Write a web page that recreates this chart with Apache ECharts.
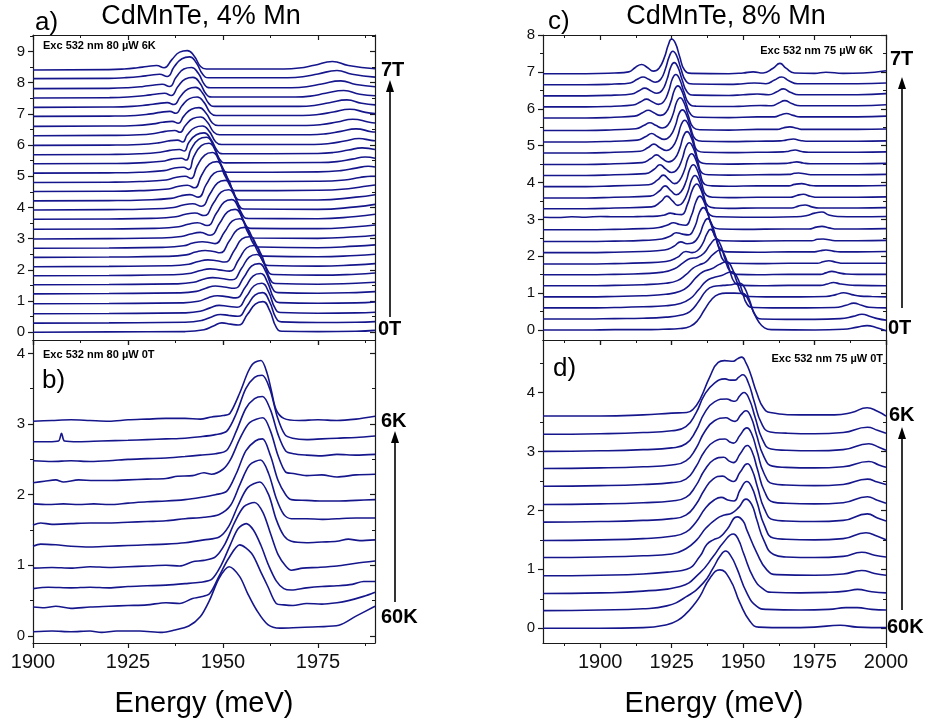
<!DOCTYPE html>
<html><head><meta charset="utf-8">
<script src="https://cdn.jsdelivr.net/npm/echarts@6/dist/echarts.min.js"></script>
<style>html,body{margin:0;padding:0;background:#fff}#c{width:928px;height:724px}</style>
</head><body><div id="c"></div>
<script>
// ---------- Panel a: CdMnTe 4% Mn, 0T..7T (bottom -> top) ----------
const a00=[[1900,0],[1920,0.01],[1940,0.02],[1945,0.08],[1947.5,0.2],[1949.7,0.3],[1952,0.26],[1954,0.23],[1956.5,0.58],[1958.5,0.9],[1960.5,0.98],[1962.3,0.69],[1964,0.16],[1965.5,0.03],[1975,0.02],[1985,0.03],[1990,0.06]];
const a01=[[1900,0.29],[1920,0.3],[1940,0.32],[1944.5,0.38],[1947,0.49],[1949.3,0.57],[1951.5,0.54],[1953.9,0.51],[1956.4,0.86],[1958.4,1.19],[1960.4,1.27],[1962.2,0.99],[1963.9,0.47],[1965.4,0.33],[1975,0.31],[1985,0.32],[1990,0.34]];
const a02=[[1900,0.59],[1920,0.6],[1940,0.62],[1944,0.67],[1946.6,0.78],[1949,0.86],[1951.2,0.83],[1953.7,0.8],[1956.2,1.15],[1958.2,1.49],[1960.2,1.57],[1962,1.29],[1963.7,0.77],[1965.2,0.63],[1975,0.61],[1985,0.62],[1990,0.64]];
const a03=[[1900,0.91],[1920,0.92],[1939,0.94],[1943.5,0.99],[1946,1.1],[1948.5,1.17],[1950.8,1.14],[1953.4,1.1],[1955.9,1.45],[1957.9,1.8],[1959.9,1.88],[1961.7,1.6],[1963.4,1.08],[1964.9,0.95],[1975,0.93],[1985,0.94],[1990,0.97]];
const a04=[[1900,1.23],[1920,1.24],[1938.5,1.26],[1943,1.31],[1945.5,1.41],[1948,1.48],[1950.3,1.45],[1953,1.41],[1955.5,1.76],[1957.5,2.12],[1959.5,2.2],[1961.3,1.93],[1963,1.41],[1964.5,1.27],[1975,1.25],[1985,1.27],[1990,1.3]];
const a05=[[1900,1.52],[1920,1.53],[1937.5,1.55],[1942.3,1.6],[1944.8,1.7],[1947.3,1.75],[1949.6,1.72],[1952.4,1.68],[1954.9,2.05],[1956.9,2.41],[1958.9,2.49],[1960.7,2.22],[1962.4,1.7],[1963.9,1.56],[1975,1.54],[1985,1.57],[1990,1.6]];
const a06=[[1900,1.81],[1920,1.82],[1937,1.84],[1941.6,1.89],[1944.1,1.98],[1946.6,2.03],[1948.9,2.0],[1951.7,1.96],[1954.2,2.34],[1956.2,2.7],[1958.2,2.78],[1960,2.51],[1961.7,1.99],[1963.2,1.85],[1975,1.83],[1985,1.86],[1990,1.9]];
const a07=[[1900,2.1],[1920,2.11],[1936,2.13],[1941,2.18],[1943.5,2.27],[1946,2.32],[1948.3,2.29],[1950.5,2.25],[1953,2.63],[1955,2.99],[1957,3.06],[1958.8,2.79],[1960.5,2.27],[1962,2.14],[1975,2.12],[1985,2.16],[1990,2.2]];
const a08=[[1900,2.4],[1920,2.41],[1935,2.43],[1940.3,2.48],[1942.8,2.57],[1945.3,2.62],[1947.5,2.59],[1949.2,2.55],[1951.7,2.93],[1953.7,3.28],[1955.7,3.36],[1957.5,3.09],[1959.2,2.57],[1960.7,2.44],[1975,2.42],[1985,2.46],[1990,2.5]];
const a09=[[1900,2.69],[1920,2.7],[1934,2.72],[1939.6,2.77],[1942.1,2.86],[1944.6,2.9],[1946.7,2.87],[1947.9,2.84],[1950.4,3.21],[1952.4,3.56],[1954.4,3.64],[1956.2,3.37],[1957.9,2.86],[1959.4,2.73],[1975,2.71],[1985,2.76],[1990,2.8]];
const a10=[[1900,2.99],[1920,3.0],[1933,3.02],[1939,3.07],[1941.5,3.15],[1944,3.2],[1946.6,3.11],[1949.2,3.51],[1951.2,3.86],[1953.2,3.94],[1955,3.67],[1956.7,3.16],[1958.2,3.02],[1975,3.01],[1985,3.06],[1990,3.11]];
const a11=[[1900,3.3],[1920,3.31],[1932,3.33],[1938.3,3.38],[1940.8,3.46],[1943.3,3.51],[1945.8,3.42],[1948.3,3.82],[1950.3,4.17],[1952.3,4.25],[1954.1,3.98],[1955.8,3.47],[1957.3,3.33],[1975,3.32],[1985,3.38],[1990,3.44]];
const a12=[[1900,3.62],[1920,3.63],[1931,3.65],[1937.6,3.7],[1940.1,3.78],[1942.6,3.82],[1945,3.74],[1947.5,4.14],[1949.5,4.49],[1951.5,4.57],[1953.3,4.3],[1955,3.79],[1956.5,3.65],[1975,3.64],[1985,3.71],[1990,3.78]];
const a13=[[1900,3.92],[1920,3.93],[1930,3.95],[1937,4.0],[1939.5,4.08],[1942,4.12],[1944.3,4.04],[1946.6,4.44],[1948.6,4.79],[1950.6,4.87],[1952.4,4.6],[1954.1,4.09],[1955.6,3.95],[1975,3.94],[1985,4.02],[1990,4.1]];
const a14=[[1900,4.21],[1920,4.22],[1929,4.24],[1936.3,4.29],[1938.8,4.37],[1941.3,4.41],[1943.5,4.33],[1945.6,4.74],[1947.6,5.09],[1949.6,5.17],[1951.4,4.9],[1953.1,4.38],[1954.6,4.24],[1975,4.24],[1985,4.33],[1990,4.41]];
const a15=[[1900,4.51],[1920,4.52],[1928,4.54],[1935.6,4.59],[1938.1,4.67],[1940.6,4.71],[1942.5,4.63],[1944.4,5.04],[1946.4,5.39],[1948.4,5.47],[1950.2,5.2],[1951.9,4.68],[1953.4,4.54],[1975,4.55],[1983,4.6],[1988,4.69],[1990,4.72]];
const a16=[[1900,4.8],[1920,4.81],[1928,4.83],[1935,4.88],[1937.5,4.96],[1940,5.0],[1941.6,4.93],[1943.2,5.33],[1945.2,5.68],[1947.2,5.76],[1949,5.49],[1950.7,4.97],[1952.2,4.83],[1975,4.84],[1982,4.88],[1986,4.96],[1989,5.0],[1990,5.0]];
const a17=[[1900,5.1],[1920,5.11],[1928,5.13],[1934.5,5.18],[1937,5.26],[1939.5,5.29],[1941,5.22],[1942.3,5.63],[1944.3,5.98],[1946.3,6.06],[1948.1,5.79],[1949.8,5.27],[1951.3,5.13],[1975,5.14],[1981,5.18],[1985,5.26],[1988.2,5.32],[1990,5.3]];
const a18=[[1900,5.4],[1920,5.41],[1928,5.43],[1934,5.48],[1936.5,5.55],[1939,5.58],[1940.3,5.52],[1941.6,5.87],[1943.6,6.18],[1945.6,6.25],[1947.4,6.01],[1949.1,5.55],[1950.6,5.43],[1975,5.44],[1980,5.47],[1984,5.55],[1987.4,5.62],[1990,5.58]];
const a19=[[1900,5.69],[1920,5.7],[1928,5.72],[1933.5,5.77],[1936,5.83],[1938.5,5.86],[1939.8,5.81],[1941,6.08],[1943,6.33],[1945,6.39],[1946.8,6.19],[1948.5,5.82],[1950,5.72],[1975,5.73],[1979,5.76],[1983,5.84],[1986.6,5.91],[1990,5.86]];
const a20=[[1900,5.99],[1920,6.0],[1928,6.02],[1933,6.07],[1935.5,6.13],[1938,6.16],[1939.4,6.1],[1940.6,6.33],[1942.6,6.56],[1944.6,6.61],[1946.4,6.44],[1948.1,6.1],[1949.6,6.02],[1974,6.02],[1978,6.05],[1982,6.13],[1985.8,6.21],[1989,6.15],[1990,6.14]];
const a21=[[1900,6.3],[1920,6.31],[1928,6.33],[1932.3,6.38],[1934.8,6.44],[1937.3,6.47],[1938.7,6.41],[1940.1,6.63],[1942.1,6.85],[1944.1,6.9],[1945.9,6.73],[1947.6,6.41],[1949.1,6.33],[1973,6.33],[1977,6.36],[1981,6.44],[1985,6.52],[1989,6.43],[1990,6.42]];
const a22=[[1900,6.6],[1920,6.61],[1927,6.63],[1931.6,6.68],[1934.1,6.73],[1936.6,6.76],[1938.2,6.7],[1939.7,6.93],[1941.7,7.15],[1943.7,7.2],[1945.5,7.03],[1947.2,6.71],[1948.7,6.63],[1972,6.63],[1976,6.66],[1980,6.74],[1984.2,6.83],[1988.5,6.73],[1990,6.71]];
const a23=[[1900,6.92],[1920,6.93],[1927,6.95],[1931,7.0],[1933.5,7.05],[1936,7.08],[1937.6,7.02],[1939.2,7.26],[1941.2,7.49],[1943.2,7.54],[1945,7.37],[1946.7,7.03],[1948.2,6.95],[1971,6.95],[1975,6.98],[1979,7.06],[1983.4,7.15],[1987.5,7.05],[1990,7.01]];
const a24=[[1900,7.21],[1920,7.22],[1926,7.24],[1930.3,7.29],[1932.8,7.33],[1935.3,7.36],[1937.1,7.3],[1938.8,7.56],[1940.8,7.8],[1942.8,7.85],[1944.6,7.67],[1946.3,7.33],[1947.8,7.24],[1970,7.24],[1974,7.27],[1978,7.36],[1982.6,7.45],[1986.5,7.34],[1990,7.29]];
const a25=[[1900,7.51],[1920,7.52],[1925,7.54],[1929.6,7.59],[1932.1,7.63],[1934.6,7.66],[1936.4,7.59],[1938.1,7.87],[1940.1,8.12],[1942.1,8.17],[1943.9,7.99],[1945.6,7.63],[1947.1,7.54],[1969,7.54],[1973,7.57],[1977,7.66],[1981.8,7.75],[1986,7.63],[1990,7.58]];
const a26=[[1900,7.81],[1920,7.82],[1925,7.84],[1929,7.88],[1931.5,7.92],[1934,7.95],[1935.9,7.88],[1937.7,8.18],[1939.7,8.44],[1941.7,8.49],[1943.5,8.3],[1945.2,7.93],[1946.7,7.84],[1968,7.84],[1972,7.87],[1976,7.96],[1981,8.06],[1985,7.94],[1990,7.87]];
const a27=[[1900,8.13],[1920,8.14],[1924,8.16],[1928.3,8.2],[1930.8,8.24],[1933.3,8.27],[1935.3,8.2],[1937.2,8.52],[1939.2,8.77],[1941.2,8.83],[1943,8.63],[1944.7,8.26],[1946.2,8.16],[1967,8.16],[1971,8.19],[1975,8.28],[1980,8.39],[1984,8.27],[1990,8.18]];
const a28=[[1900,8.41],[1920,8.42],[1924,8.44],[1927.5,8.48],[1930,8.52],[1932.5,8.55],[1934.5,8.48],[1936.6,8.75],[1938.6,8.98],[1940.6,9.03],[1942.4,8.86],[1944.1,8.52],[1945.6,8.44],[1966,8.44],[1970,8.47],[1974,8.56],[1978.8,8.68],[1983,8.55],[1990,8.45]];

// ---------- Panel b: CdMnTe 4% Mn, 0T, 60K..6K (bottom -> top) ----------
const b00=[[1900,0.06],[1905,0.07],[1910,0.06],[1915,0.07],[1918,0.05],[1922,0.07],[1928,0.07],[1934,0.05],[1937,0.08],[1941,0.14],[1944,0.27],[1946.5,0.51],[1949,0.82],[1951.6,0.98],[1954.4,0.84],[1956.5,0.6],[1958.8,0.37],[1961.8,0.16],[1965,0.11],[1970,0.12],[1975,0.13],[1980.5,0.15],[1985,0.28],[1990,0.42]];
const b01=[[1900,0.41],[1903,0.4],[1906,0.42],[1910,0.39],[1915,0.41],[1920,0.42],[1925,0.43],[1930,0.44],[1935,0.47],[1938.6,0.46],[1942,0.53],[1944,0.55],[1946.5,0.6],[1949,0.85],[1951.5,1.1],[1954.4,1.29],[1957.5,1.17],[1960,0.9],[1961.8,0.7],[1964,0.46],[1966,0.44],[1968.4,0.43],[1972,0.46],[1976,0.45],[1980,0.47],[1983,0.5],[1987,0.56],[1990,0.62]];
const b02=[[1900,0.67],[1904,0.69],[1910,0.68],[1915,0.69],[1920,0.68],[1925,0.7],[1930,0.71],[1935,0.72],[1940,0.74],[1944,0.76],[1947,0.8],[1949.5,1.0],[1952,1.3],[1954,1.52],[1956.1,1.59],[1958,1.5],[1960,1.28],[1962,1.0],[1964,0.78],[1966,0.67],[1968,0.65],[1972,0.68],[1976,0.7],[1980,0.71],[1984,0.73],[1987,0.77],[1990,0.77]];
const b03=[[1900,0.96],[1905,0.97],[1910,0.96],[1915,0.98],[1920,0.97],[1925,0.98],[1930,0.99],[1935,1.0],[1938.6,0.99],[1942,1.05],[1945,1.07],[1948,1.12],[1950.5,1.3],[1953,1.6],[1955.5,1.83],[1958.3,1.89],[1960.5,1.75],[1962.5,1.45],[1964.5,1.15],[1966.5,0.99],[1968,0.93],[1971,0.96],[1975,0.97],[1980,0.99],[1985,1.03],[1990,1.06]];
const b04=[[1900,1.27],[1902,1.3],[1906,1.29],[1910,1.27],[1915,1.26],[1920,1.27],[1925,1.28],[1930,1.29],[1935,1.3],[1940,1.32],[1945,1.36],[1949,1.4],[1951.5,1.55],[1954,1.85],[1956.5,2.1],[1959.7,2.18],[1962,2.0],[1964,1.65],[1966,1.42],[1968,1.34],[1972,1.32],[1976,1.33],[1980,1.34],[1983,1.37],[1986,1.35],[1990,1.36]];
const b05=[[1900,1.57],[1902,1.6],[1905,1.58],[1910,1.59],[1915,1.6],[1920,1.6],[1925,1.61],[1930,1.62],[1935,1.63],[1940,1.66],[1945,1.68],[1949,1.72],[1952,1.85],[1954.5,2.15],[1957,2.42],[1959.9,2.49],[1962,2.3],[1964,1.95],[1966,1.72],[1968,1.66],[1972,1.66],[1976,1.65],[1980,1.66],[1985,1.67],[1990,1.67]];
const b06=[[1900,1.87],[1904,1.86],[1908,1.87],[1912,1.86],[1916,1.87],[1920,1.86],[1925,1.88],[1930,1.9],[1935,1.91],[1940,1.93],[1944,1.96],[1948,2.0],[1951,2.05],[1953.5,2.3],[1956,2.62],[1958.5,2.76],[1960.4,2.79],[1962.5,2.55],[1964.5,2.2],[1966.5,2.0],[1968,1.93],[1972,1.92],[1976,1.91],[1980,1.91],[1985,1.92],[1990,1.93]];
const b07=[[1900,2.17],[1903,2.19],[1906,2.21],[1908,2.18],[1912,2.21],[1916,2.2],[1920,2.2],[1925,2.21],[1930,2.22],[1935,2.23],[1938,2.26],[1942,2.27],[1945,2.31],[1947,2.29],[1950,2.36],[1952,2.5],[1954.5,2.8],[1957,3.02],[1960.5,3.09],[1962.5,2.9],[1964.5,2.55],[1966.5,2.32],[1968.5,2.3],[1972,2.27],[1976,2.28],[1980,2.25],[1985,2.28],[1990,2.29]];
const b08=[[1900,2.48],[1905,2.47],[1910,2.48],[1915,2.47],[1920,2.48],[1925,2.5],[1930,2.51],[1935,2.52],[1940,2.54],[1944,2.56],[1948,2.58],[1951,2.63],[1953.5,2.9],[1956,3.22],[1958.3,3.36],[1960.4,3.39],[1962.5,3.2],[1964.5,2.85],[1966.5,2.62],[1968.5,2.58],[1972,2.56],[1976,2.55],[1980,2.57],[1985,2.56],[1990,2.57]];
const b09=[[1900,2.75],[1904,2.75],[1906.7,2.76],[1907.5,2.87],[1908.3,2.76],[1912,2.75],[1918,2.76],[1925,2.77],[1930,2.78],[1935,2.79],[1940,2.8],[1944,2.82],[1948,2.85],[1951,2.9],[1953.5,3.15],[1956,3.5],[1958.3,3.66],[1960.3,3.69],[1962.3,3.5],[1964.3,3.1],[1966.3,2.85],[1968.3,2.8],[1972,2.78],[1976,2.79],[1980,2.8],[1985,2.81],[1990,2.83]];
const b10=[[1900,3.04],[1905,3.05],[1910,3.06],[1915,3.05],[1920,3.04],[1925,3.06],[1930,3.07],[1935,3.08],[1940,3.08],[1944,3.07],[1947,3.1],[1950,3.12],[1951.8,3.15],[1954.4,3.44],[1956.6,3.74],[1958,3.86],[1960,3.9],[1961.6,3.72],[1962.7,3.48],[1964,3.2],[1966,3.08],[1970,3.05],[1975,3.06],[1980,3.05],[1985,3.07],[1990,3.11]];

// ---------- Panel c: CdMnTe 8% Mn, 0T..7T (bottom -> top) ----------
const c00=[[1880,0],[1895,0],[1905,0.01],[1915,0.01],[1922,0.02],[1928,0.04],[1931.5,0.1],[1934,0.25],[1936.5,0.55],[1939,0.83],[1941.5,0.97],[1944,1.0],[1947,1.0],[1950,0.99],[1951.8,0.82],[1953.6,0.5],[1955.5,0.22],[1957.5,0.06],[1960,0.01],[1975,0.0],[1985,0.02],[1990,0.08],[1993.4,0.12],[1996.5,0.07],[2000,-0.02]];
const c01=[[1880,0.3],[1895,0.3],[1905,0.31],[1915,0.32],[1923,0.35],[1928,0.4],[1931.4,0.5],[1934.5,0.78],[1937,1.06],[1939.5,1.18],[1943,1.21],[1946,1.23],[1948.9,1.27],[1950.5,1.15],[1952.3,0.8],[1954.3,0.4],[1956.5,0.3],[1965,0.29],[1975,0.29],[1984,0.31],[1988.5,0.37],[1991.6,0.43],[1994.5,0.37],[1997,0.31],[2000,0.27]];
const c02=[[1880,0.6],[1895,0.6],[1905,0.61],[1915,0.63],[1923,0.66],[1928,0.72],[1931.5,0.85],[1934.5,1.1],[1937,1.32],[1939.5,1.42],[1942.5,1.48],[1946,1.58],[1947.8,1.45],[1949.5,1.1],[1951.4,0.7],[1953.8,0.61],[1960,0.6],[1972,0.6],[1982,0.61],[1986,0.67],[1988.7,0.73],[1991.5,0.67],[1994,0.62],[2000,0.6]];
const c03=[[1880,0.9],[1895,0.9],[1905,0.91],[1915,0.93],[1923,0.97],[1928,1.05],[1931,1.2],[1933.5,1.42],[1936,1.58],[1939,1.66],[1941.7,1.78],[1944.3,1.85],[1946,1.7],[1947.7,1.34],[1949.6,0.98],[1952,0.91],[1958,0.9],[1970,0.9],[1979,0.91],[1982.5,0.96],[1985.1,1.01],[1988,0.96],[1991,0.92],[1995,0.91],[2000,0.9]];
const c04=[[1880,1.2],[1895,1.2],[1905,1.21],[1915,1.23],[1923,1.27],[1927,1.34],[1930,1.5],[1932.5,1.68],[1934.5,1.76],[1937,1.85],[1939.5,2.05],[1942,2.17],[1943.6,2.02],[1945.2,1.65],[1947.1,1.28],[1949.5,1.21],[1956,1.2],[1966,1.21],[1977,1.21],[1979.5,1.25],[1981.6,1.29],[1984,1.25],[1987,1.22],[1990,1.21],[2000,1.2]];
const c05=[[1880,1.5],[1895,1.5],[1905,1.51],[1915,1.53],[1922,1.57],[1926,1.66],[1929,1.82],[1931.5,1.94],[1934,1.97],[1936.5,2.1],[1938.5,2.32],[1940.5,2.47],[1942,2.33],[1943.6,1.95],[1945.5,1.58],[1948,1.51],[1955,1.5],[1966,1.51],[1977,1.51],[1979,1.55],[1981,1.59],[1983.5,1.55],[1986,1.52],[1990,1.51],[2000,1.51]];
const c06=[[1880,1.79],[1895,1.79],[1905,1.8],[1915,1.82],[1923,1.86],[1927,1.97],[1930,2.13],[1932.2,2.1],[1934,2.15],[1935.9,2.35],[1937.3,2.6],[1938.6,2.73],[1939.9,2.6],[1941.4,2.25],[1943.2,1.88],[1945.7,1.81],[1955,1.8],[1966,1.81],[1976,1.81],[1978,1.85],[1980,1.88],[1982.5,1.84],[1985,1.81],[1990,1.81],[2000,1.81]];
const c07=[[1880,2.1],[1895,2.1],[1905,2.11],[1915,2.13],[1922.5,2.17],[1925.8,2.27],[1928.2,2.39],[1930.4,2.34],[1932.3,2.36],[1934.6,2.56],[1936.3,2.9],[1937.6,3.02],[1938.9,2.9],[1940.4,2.55],[1942.2,2.18],[1944.7,2.12],[1955,2.11],[1966,2.12],[1975,2.12],[1977,2.15],[1979,2.17],[1981.5,2.14],[1984,2.12],[1990,2.12],[2000,2.13]];
const c08=[[1880,2.4],[1895,2.4],[1905,2.41],[1915,2.43],[1921.6,2.47],[1924.6,2.55],[1926.6,2.64],[1928.8,2.6],[1930.8,2.58],[1933.1,2.8],[1934.8,3.2],[1936.1,3.32],[1937.4,3.2],[1938.9,2.85],[1940.7,2.48],[1943.2,2.42],[1950,2.41],[1965,2.42],[1974,2.42],[1976,2.46],[1978,2.47],[1980.5,2.44],[1983,2.42],[1990,2.42],[2000,2.43]];
const c09=[[1880,2.72],[1895,2.72],[1905,2.73],[1915,2.75],[1920.6,2.78],[1923.6,2.85],[1925.6,2.91],[1927.8,2.86],[1929.8,2.84],[1931.9,3.1],[1933.6,3.5],[1934.9,3.63],[1936.2,3.5],[1937.7,3.15],[1939.5,2.8],[1942,2.74],[1950,2.73],[1965,2.74],[1973,2.74],[1975.5,2.79],[1977.6,2.81],[1980,2.77],[1983,2.74],[1990,2.74],[2000,2.75]];
const c10=[[1880,3.06],[1885,3.05],[1890,3.07],[1895,3.06],[1900,3.08],[1905,3.07],[1910,3.07],[1915,3.08],[1920,3.09],[1922.5,3.12],[1924.5,3.17],[1926.5,3.14],[1928.5,3.13],[1930.5,3.4],[1932.5,3.85],[1933.8,3.96],[1935.1,3.83],[1936.6,3.48],[1938.4,3.12],[1941,3.07],[1950,3.06],[1960,3.06],[1968,3.07],[1972,3.1],[1975,3.17],[1977.6,3.2],[1980,3.12],[1983,3.08],[1990,3.07],[2000,3.08]];
const c11=[[1880,3.29],[1895,3.29],[1905,3.31],[1918,3.34],[1921.3,3.49],[1923.3,3.63],[1925.3,3.5],[1927.2,3.38],[1928.9,3.46],[1930.7,3.75],[1932,4.08],[1933.2,4.19],[1934.5,4.06],[1936,3.71],[1937.8,3.36],[1940.4,3.31],[1945,3.3],[1955,3.31],[1967,3.31],[1969.3,3.36],[1971.7,3.39],[1974,3.34],[1976.5,3.31],[1990,3.31],[2000,3.32]];
const c12=[[1880,3.58],[1895,3.58],[1905,3.6],[1917.5,3.63],[1920.7,3.77],[1922.7,3.91],[1924.7,3.78],[1926.6,3.67],[1928.3,3.75],[1930.1,4.04],[1931.4,4.37],[1932.6,4.48],[1933.9,4.35],[1935.4,4.0],[1937.2,3.65],[1939.8,3.6],[1945,3.59],[1955,3.6],[1966.5,3.6],[1968.8,3.65],[1971.1,3.68],[1973.5,3.63],[1976,3.6],[1990,3.6],[2000,3.61]];
const c13=[[1880,3.89],[1895,3.89],[1905,3.91],[1917,3.94],[1920.1,4.07],[1922.1,4.2],[1924.1,4.08],[1926,3.97],[1927.7,4.05],[1929.5,4.34],[1930.8,4.67],[1932,4.78],[1933.3,4.65],[1934.8,4.3],[1936.6,3.95],[1939.2,3.91],[1945,3.9],[1955,3.91],[1966,3.91],[1968,3.95],[1970.5,3.97],[1973,3.93],[1975.5,3.91],[1990,3.91],[2000,3.92]];
const c14=[[1880,4.19],[1895,4.19],[1905,4.21],[1915.9,4.24],[1918.9,4.36],[1920.9,4.48],[1922.9,4.37],[1925,4.27],[1926.9,4.35],[1928.7,4.64],[1930,4.97],[1931.2,5.08],[1932.5,4.95],[1934,4.6],[1935.8,4.25],[1938.4,4.21],[1945,4.2],[1955,4.21],[1966,4.22],[1968,4.25],[1969.4,4.26],[1972,4.23],[1974.5,4.21],[1990,4.21],[2000,4.22]];
const c15=[[1880,4.49],[1895,4.49],[1905,4.51],[1914.7,4.54],[1917.7,4.65],[1919.7,4.75],[1921.7,4.65],[1924,4.56],[1926.1,4.65],[1927.9,4.94],[1929.2,5.27],[1930.4,5.38],[1931.7,5.25],[1933.2,4.9],[1935,4.55],[1937.6,4.51],[1945,4.5],[1955,4.51],[1965,4.52],[1966.8,4.54],[1968.8,4.56],[1971,4.53],[1973.5,4.51],[1990,4.51],[2000,4.52]];
const c16=[[1880,4.8],[1895,4.8],[1905,4.82],[1914,4.85],[1916.8,4.95],[1918.8,5.04],[1920.8,4.95],[1923.2,4.87],[1925.3,4.96],[1927.1,5.25],[1928.4,5.58],[1929.6,5.69],[1930.9,5.56],[1932.4,5.2],[1934.2,4.86],[1936.8,4.82],[1945,4.81],[1955,4.82],[1964,4.83],[1966,4.85],[1968.2,4.88],[1970.5,4.84],[1973,4.82],[1990,4.82],[2000,4.83]];
const c17=[[1880,5.1],[1895,5.1],[1905,5.12],[1913,5.15],[1916,5.25],[1918,5.33],[1920,5.25],[1922.4,5.17],[1924.5,5.26],[1926.3,5.54],[1927.6,5.87],[1928.8,5.97],[1930.1,5.85],[1931.6,5.5],[1933.4,5.17],[1936,5.12],[1945,5.11],[1955,5.12],[1963,5.13],[1965,5.15],[1967.6,5.18],[1970,5.14],[1972,5.12],[1990,5.12],[2000,5.13]];
const c18=[[1880,5.41],[1895,5.41],[1905,5.43],[1912.5,5.46],[1915.4,5.55],[1917.4,5.62],[1919.4,5.55],[1921.7,5.48],[1923.7,5.56],[1925.5,5.85],[1926.8,6.19],[1928,6.3],[1929.3,6.17],[1930.8,5.82],[1932.6,5.49],[1935,5.43],[1945,5.42],[1955,5.44],[1962,5.44],[1964,5.48],[1966.4,5.51],[1968.8,5.47],[1971,5.44],[1980,5.44],[1990,5.44],[2000,5.45]];
const c19=[[1880,5.75],[1895,5.75],[1905,5.77],[1912,5.8],[1914.8,5.89],[1916.8,5.96],[1918.8,5.89],[1921,5.82],[1923,5.9],[1924.7,6.18],[1926,6.51],[1927.2,6.62],[1928.5,6.5],[1930,6.16],[1931.8,5.84],[1934.3,5.77],[1945,5.76],[1955,5.78],[1961,5.78],[1963,5.83],[1965.2,5.87],[1967.5,5.82],[1970,5.78],[1980,5.78],[1990,5.78],[2000,5.8]];
const c20=[[1880,6.05],[1895,6.05],[1905,6.07],[1911.5,6.1],[1914.2,6.19],[1916.2,6.26],[1918.2,6.19],[1920.4,6.12],[1922.3,6.2],[1924,6.49],[1925.3,6.82],[1926.5,6.93],[1927.8,6.8],[1929.3,6.46],[1931.1,6.14],[1933.6,6.07],[1945,6.06],[1950,6.07],[1956,6.09],[1960,6.08],[1962.3,6.15],[1964.6,6.22],[1967,6.14],[1970,6.08],[1980,6.08],[1990,6.08],[2000,6.11]];
const c21=[[1880,6.35],[1895,6.35],[1905,6.37],[1911,6.4],[1913.6,6.49],[1915.6,6.56],[1917.6,6.49],[1919.8,6.42],[1921.7,6.5],[1923.4,6.8],[1924.7,7.13],[1925.9,7.25],[1927.2,7.13],[1928.7,6.78],[1930.5,6.45],[1933,6.37],[1945,6.36],[1950,6.38],[1955,6.4],[1959,6.38],[1961.8,6.46],[1964.1,6.54],[1966.5,6.45],[1969.5,6.38],[1980,6.38],[1990,6.38],[2000,6.41]];
const c22=[[1880,6.65],[1895,6.65],[1905,6.67],[1910.5,6.7],[1913,6.8],[1915,6.86],[1917,6.8],[1919.2,6.72],[1921.2,6.8],[1922.9,7.1],[1924.2,7.42],[1925.4,7.56],[1926.7,7.45],[1928.2,7.1],[1930,6.75],[1932.5,6.67],[1945,6.66],[1950,6.68],[1954,6.7],[1958,6.68],[1961,6.78],[1963.5,6.86],[1966,6.76],[1969,6.68],[1980,6.68],[1990,6.68],[2000,6.7]];
const c23=[[1880,6.95],[1895,6.95],[1905,6.97],[1910,7.0],[1912.3,7.12],[1914.5,7.2],[1916.5,7.12],[1918.6,7.02],[1920.6,7.1],[1922.5,7.4],[1923.8,7.72],[1925,7.89],[1926.3,7.78],[1927.8,7.42],[1929.5,7.05],[1932,6.96],[1945,6.95],[1950,6.97],[1953.5,7.0],[1957,6.97],[1960.5,7.1],[1962.9,7.23],[1965,7.1],[1968,6.97],[1975,6.96],[1979,6.99],[1985,6.96],[1992,6.97],[2000,7.03]];

// ---------- Panel d: CdMnTe 8% Mn, 0T, 60K..6K (bottom -> top) ----------
const d00=[[1880,0],[1900,0],[1915,0.01],[1923.3,0.06],[1927,0.13],[1930.3,0.26],[1932.8,0.4],[1934.9,0.54],[1938.4,0.85],[1941.9,0.99],[1945.4,0.83],[1948.9,0.43],[1952.4,0.12],[1955.4,0.02],[1965,0.01],[1975,0.02],[1984,0.05],[1990,0.02],[2000,0.01]];
const d01=[[1880,0.3],[1900,0.31],[1915,0.33],[1923.3,0.38],[1930.3,0.54],[1936.1,0.77],[1939.5,1.02],[1941.9,1.22],[1943.9,1.31],[1945.8,1.22],[1947.8,1.02],[1951.3,0.6],[1954.8,0.37],[1958.3,0.32],[1970,0.31],[1980,0.32],[1986,0.35],[1990,0.35],[1995,0.32],[2000,0.31]];
const d02=[[1880,0.59],[1900,0.6],[1915,0.63],[1928,0.71],[1934.9,0.94],[1939.6,1.22],[1943.2,1.46],[1946.6,1.6],[1948.4,1.5],[1950.1,1.28],[1953.7,0.85],[1957.2,0.66],[1960,0.61],[1970,0.6],[1980,0.61],[1986,0.63],[1990,0.66],[1995,0.62],[2000,0.6]];
const d03=[[1880,0.89],[1900,0.9],[1915,0.92],[1925,0.96],[1930.3,1.0],[1934.9,1.22],[1937.3,1.42],[1939.6,1.5],[1942,1.55],[1944.3,1.67],[1948,1.89],[1950,1.82],[1951.3,1.67],[1954.8,1.28],[1958.3,0.99],[1961.8,0.91],[1975,0.9],[1985,0.92],[1991.5,0.98],[1996,0.93],[2000,0.9]];
const d04=[[1880,1.2],[1900,1.21],[1915,1.23],[1925,1.26],[1930,1.35],[1933.8,1.5],[1937,1.7],[1940.8,1.86],[1943.5,1.92],[1946,1.95],[1948.5,2.05],[1951,2.19],[1953,2.1],[1954.8,1.84],[1957.2,1.5],[1960.7,1.25],[1965,1.21],[1975,1.2],[1985,1.22],[1991.5,1.29],[1996,1.24],[2000,1.21]];
const d05=[[1880,1.49],[1900,1.5],[1915,1.52],[1925,1.56],[1930,1.63],[1933.5,1.8],[1937,2.05],[1940,2.18],[1942.3,2.22],[1945,2.17],[1946.8,2.16],[1949,2.35],[1951.3,2.49],[1953,2.4],[1954.8,2.15],[1957.5,1.74],[1960.6,1.53],[1965,1.51],[1975,1.5],[1985,1.52],[1993,1.62],[1997,1.56],[2000,1.5]];
const d06=[[1880,1.8],[1900,1.81],[1915,1.83],[1925,1.86],[1930,1.92],[1933.5,2.1],[1936.5,2.35],[1939.5,2.53],[1942.8,2.58],[1945,2.52],[1946.6,2.49],[1949,2.65],[1951.5,2.79],[1953.2,2.68],[1955,2.4],[1957.5,2.02],[1960.6,1.84],[1965,1.82],[1975,1.81],[1985,1.83],[1993.5,1.94],[1997,1.87],[2000,1.82]];
const d07=[[1880,2.1],[1900,2.11],[1915,2.13],[1925,2.16],[1930,2.22],[1933.5,2.42],[1936.5,2.68],[1939.8,2.86],[1943.2,2.9],[1945,2.84],[1946.6,2.81],[1949,2.96],[1951.5,3.1],[1953.2,2.99],[1955,2.7],[1957.5,2.32],[1960.6,2.14],[1965,2.12],[1975,2.11],[1985,2.13],[1993.5,2.23],[1997,2.17],[2000,2.12]];
const d08=[[1880,2.41],[1900,2.42],[1915,2.44],[1925,2.47],[1930,2.53],[1933.5,2.74],[1936.5,3.0],[1940,3.17],[1943.7,3.21],[1945.3,3.16],[1946.6,3.14],[1949,3.28],[1951.3,3.4],[1953,3.3],[1954.8,3.02],[1957.3,2.63],[1960.5,2.45],[1965,2.43],[1975,2.42],[1985,2.44],[1993.5,2.53],[1997,2.48],[2000,2.44]];
const d09=[[1880,2.71],[1900,2.72],[1915,2.74],[1925,2.77],[1930,2.84],[1933.5,3.05],[1936.5,3.33],[1940,3.52],[1944,3.57],[1945.8,3.53],[1947.2,3.51],[1949.2,3.62],[1951,3.69],[1952.8,3.58],[1954.6,3.3],[1957.2,2.92],[1960.3,2.75],[1965,2.73],[1975,2.72],[1985,2.74],[1994,2.83],[1997.5,2.77],[2000,2.73]];
const d10=[[1880,3.0],[1900,3.01],[1915,3.03],[1925,3.06],[1930,3.13],[1933.5,3.35],[1936.5,3.65],[1940,3.84],[1944.3,3.89],[1946,3.86],[1947.2,3.85],[1948.8,3.94],[1950.3,4.0],[1952.2,3.88],[1954.2,3.58],[1956.8,3.2],[1959.8,3.04],[1965,3.02],[1975,3.01],[1985,3.03],[1994,3.13],[1997.5,3.07],[2000,3.02]];
const d11=[[1880,3.29],[1900,3.3],[1915,3.32],[1925,3.35],[1930,3.42],[1933.5,3.65],[1936.5,3.96],[1940,4.16],[1943.7,4.23],[1945.5,4.21],[1947.2,4.21],[1948.5,4.26],[1949.9,4.3],[1951.8,4.17],[1953.8,3.86],[1956.5,3.47],[1959.5,3.33],[1965,3.31],[1975,3.3],[1985,3.32],[1993.5,3.41],[1997,3.36],[2000,3.31]];
const d12=[[1880,3.6],[1900,3.6],[1915,3.62],[1925,3.65],[1930.3,3.66],[1932.6,3.72],[1934.9,3.88],[1938.4,4.27],[1941.3,4.51],[1943.5,4.54],[1946.6,4.53],[1948,4.57],[1949.5,4.6],[1951,4.5],[1952.5,4.33],[1954.8,3.99],[1957.1,3.74],[1959.5,3.66],[1970,3.62],[1982,3.62],[1988,3.66],[1993.4,3.74],[1997,3.68],[2000,3.6]];

// ---------- ticks ----------
const xTicksAB=[1900,1925,1950,1975];
const xMinorAB=[1912.5,1937.5,1962.5,1987.5];
const xTicksCD=[1900,1925,1950,1975,2000];
const xMinorCD=[1887.5,1912.5,1937.5,1962.5,1987.5];
const yTicksA=[0,1,2,3,4,5,6,7,8,9];
const yMinorA=[0.5,1.5,2.5,3.5,4.5,5.5,6.5,7.5,8.5,9.5];
const yTicksB=[0,1,2,3,4];
const yMinorB=[0.5,1.5,2.5,3.5];
const yTicksC=[0,1,2,3,4,5,6,7,8];
const yMinorC=[0.5,1.5,2.5,3.5,4.5,5.5,6.5,7.5];
const yTicksD=[0,1,2,3,4];
const yMinorD=[0.5,1.5,2.5,3.5,4.5];

const curvesA=[a00,a01,a02,a03,a04,a05,a06,a07,a08,a09,a10,a11,a12,a13,a14,a15,a16,a17,a18,a19,a20,a21,a22,a23,a24,a25,a26,a27,a28];
const curvesB=[b00,b01,b02,b03,b04,b05,b06,b07,b08,b09,b10];
const curvesC=[c00,c01,c02,c03,c04,c05,c06,c07,c08,c09,c10,c11,c12,c13,c14,c15,c16,c17,c18,c19,c20,c21,c22,c23];
const curvesD=[d00,d01,d02,d03,d04,d05,d06,d07,d08,d09,d10,d11,d12];

const FONT='"Liberation Sans", Arial, sans-serif';
const LINE='#16168c';
const AX='#1a1a1a';

const grids=[
  {left:33,top:35,width:342,height:305},
  {left:33,top:340,width:342,height:303},
  {left:543,top:35,width:343,height:305},
  {left:543,top:340,width:343,height:303}
];
const ranges=[
  {x:[1900,1990],y:[-0.25,9.53],xt:xTicksAB,xm:xMinorAB,yt:yTicksA,ym:yMinorA,xl:false},
  {x:[1900,1990],y:[-0.1,4.19],xt:xTicksAB,xm:xMinorAB,yt:yTicksB,ym:yMinorB,xl:true},
  {x:[1880,2000],y:[-0.27,8],xt:xTicksCD,xm:xMinorCD,yt:yTicksC,ym:yMinorC,xl:false},
  {x:[1880,2000],y:[-0.25,4.89],xt:xTicksCD,xm:xMinorCD,yt:yTicksD,ym:yMinorD,xl:true}
];
const xAxes=[],yAxes=[];
const mainX=[],mainY=[];
ranges.forEach((r,g)=>{
  const base={type:'value',gridIndex:g,min:r.x[0],max:r.x[1],splitLine:{show:false},axisPointer:{show:false}};
  mainX.push(xAxes.length);
  xAxes.push(Object.assign({},base,{position:'bottom',
    axisLine:{show:true,onZero:false,lineStyle:{color:AX,width:1.2}},
    axisTick:{show:true,customValues:r.xt,length:5,inside:false,lineStyle:{color:AX,width:1.2}},
    axisLabel:{show:r.xl,customValues:r.xt,fontSize:20,color:'#111',margin:9,fontFamily:FONT,formatter:v=>String(v)}}));
  xAxes.push(Object.assign({},base,{position:'bottom',axisLine:{show:false,onZero:false},
    axisTick:{show:true,customValues:r.xm,length:3,inside:false,lineStyle:{color:AX,width:1}},axisLabel:{show:false}}));
  xAxes.push(Object.assign({},base,{position:'top',
    axisLine:{show:true,onZero:false,lineStyle:{color:AX,width:1.2}},
    axisTick:{show:true,customValues:r.xt,length:5,inside:true,lineStyle:{color:AX,width:1.2}},axisLabel:{show:false}}));
  xAxes.push(Object.assign({},base,{position:'top',axisLine:{show:false,onZero:false},
    axisTick:{show:true,customValues:r.xm,length:3,inside:true,lineStyle:{color:AX,width:1}},axisLabel:{show:false}}));
  const ybase={type:'value',gridIndex:g,min:r.y[0],max:r.y[1],splitLine:{show:false},axisPointer:{show:false}};
  mainY.push(yAxes.length);
  yAxes.push(Object.assign({},ybase,{position:'left',
    axisLine:{show:true,onZero:false,lineStyle:{color:AX,width:1.2}},
    axisTick:{show:true,customValues:r.yt,length:5,inside:false,lineStyle:{color:AX,width:1.2}},
    axisLabel:{show:true,customValues:r.yt,fontSize:15,color:'#111',margin:8,fontFamily:FONT,formatter:v=>String(v)}}));
  yAxes.push(Object.assign({},ybase,{position:'left',axisLine:{show:false,onZero:false},
    axisTick:{show:true,customValues:r.ym,length:3,inside:false,lineStyle:{color:AX,width:1}},axisLabel:{show:false}}));
  yAxes.push(Object.assign({},ybase,{position:'right',
    axisLine:{show:true,onZero:false,lineStyle:{color:AX,width:1.2}},
    axisTick:{show:true,customValues:r.yt,length:5,inside:true,lineStyle:{color:AX,width:1.2}},axisLabel:{show:false}}));
  yAxes.push(Object.assign({},ybase,{position:'right',axisLine:{show:false,onZero:false},
    axisTick:{show:true,customValues:r.ym,length:3,inside:true,lineStyle:{color:AX,width:1}},axisLabel:{show:false}}));
});

const series=[];
[curvesA,curvesB,curvesC,curvesD].forEach((set,g)=>{
  set.forEach((pts,i)=>{
    series.push({type:'line',xAxisIndex:mainX[g],yAxisIndex:mainY[g],data:pts,
      showSymbol:false,symbol:'none',smooth:(g===1?0.3:0.5),silent:true,
      lineStyle:{color:LINE,width:1.6},z:2+i});
  });
});

function txt(x,y,s,font,align,weight){
  return {type:'text',x:x,y:y,silent:true,style:{text:s,fontSize:font,fontFamily:FONT,fontWeight:weight||'normal',
    fill:'#000',align:align||'left',verticalAlign:'middle'}};
}
function arrow(x,yTop,yBot){
  return [
    {type:'line',silent:true,shape:{x1:x,y1:yBot,x2:x,y2:yTop+10},style:{stroke:'#000',lineWidth:1.6}},
    {type:'polygon',silent:true,shape:{points:[[x-4,yTop+12],[x+4,yTop+12],[x,yTop]]},style:{fill:'#000'}}
  ];
}
const graphics=[
  txt(35,23,'a)',26),
  txt(201,17,'CdMnTe, 4% Mn',27,'center'),
  txt(548,22,'c)',26),
  txt(726,17,'CdMnTe, 8% Mn',27,'center'),
  txt(42,381,'b)',26),
  txt(553,369,'d)',26),
  txt(43,46,'Exc 532 nm 80 \u00b5W 6K',11,'left','bold'),
  txt(43,355,'Exc 532 nm 80 \u00b5W 0T',11,'left','bold'),
  txt(873,51,'Exc 532 nm 75 \u00b5W 6K',11,'right','bold'),
  txt(883,359,'Exc 532 nm 75 \u00b5W 0T',11,'right','bold'),
  txt(381,70,'7T',20,'left','bold'),
  txt(378,329,'0T',20,'left','bold'),
  txt(381,421,'6K',20,'left','bold'),
  txt(381,617,'60K',20,'left','bold'),
  txt(890,59,'7T',20,'left','bold'),
  txt(888,328,'0T',20,'left','bold'),
  txt(889,415,'6K',20,'left','bold'),
  txt(887,627,'60K',20,'left','bold'),
  txt(204,704,'Energy (meV)',29,'center'),
  txt(714,704,'Energy (meV)',29,'center')
].concat(arrow(390,80,317),arrow(395,431,602),arrow(902,77,308),arrow(902,427,610));

const chart=echarts.init(document.getElementById('c'),null,{renderer:'canvas'});
chart.setOption({animation:false,backgroundColor:'#fff',grid:grids,xAxis:xAxes,yAxis:yAxes,series:series,graphic:graphics});
</script></body></html>
